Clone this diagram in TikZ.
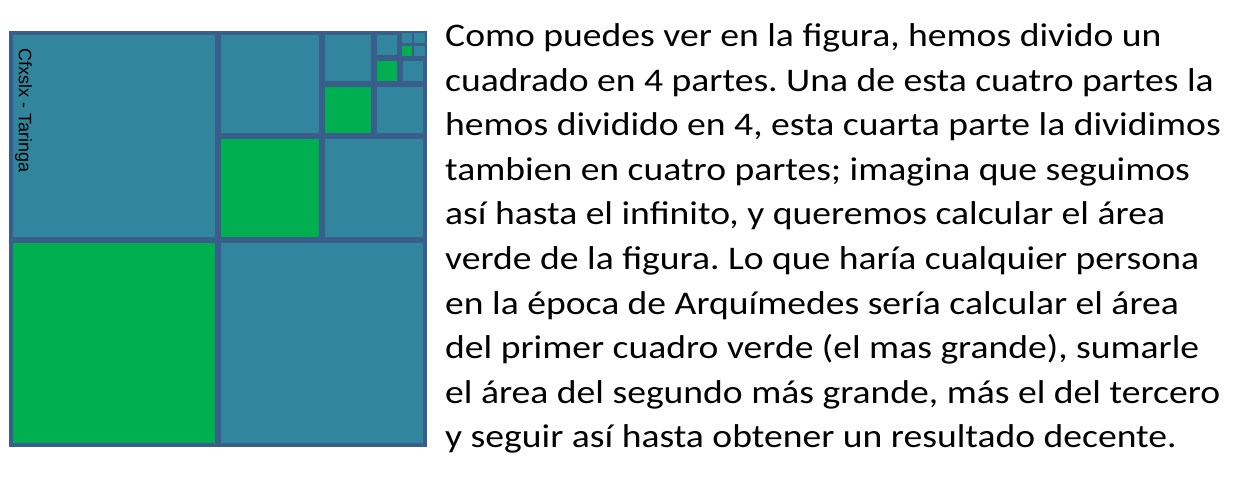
\documentclass[tikz,border=0pt]{standalone}
\usepackage{fontspec}
\setmainfont{Carlito}
\newfontfamily\wmfont{Liberation Sans}
\frenchspacing
\definecolor{sqfill}{HTML}{31859C}
\definecolor{sqgreen}{HTML}{00B050}
\definecolor{sqline}{HTML}{3A5E8C}
\begin{document}
\begin{tikzpicture}[x=1pt,y=-1pt,
  sq/.style={fill=sqfill,draw=sqline,line width=3.2pt},
  gsq/.style={fill=sqgreen,draw=sqline,line width=3.2pt},
  txt/.style={anchor=base west,inner sep=0pt,font=\fontsize{33}{40}\selectfont}]
\useasboundingbox[fill=white] (0,0) rectangle (1250,486);
% level 1
\draw[sq]  (11,33) rectangle (217,239);
\draw[gsq] (11,241) rectangle (217,445);
\draw[sq]  (219,241) rectangle (425,445);
% level 2
\draw[sq]  (219,33) rectangle (321,135);
\draw[gsq] (219,137) rectangle (321,239);
\draw[sq]  (323,137) rectangle (425,239);
% level 3
\draw[sq]  (323,33) rectangle (373,83);
\draw[gsq] (323,85) rectangle (373,135);
\draw[sq]  (375,85) rectangle (425,135);
% level 4
\draw[sq]  (375,33) rectangle (399,57);
\draw[gsq] (375,59) rectangle (399,83);
\draw[sq]  (401,59) rectangle (425,83);
% level 5
\draw[sq,line width=2pt]  (400.5,32.5) rectangle (412.5,44.5);
\draw[gsq,line width=2pt] (400.5,45) rectangle (412.5,57.5);
\draw[sq,line width=2pt]  (413,45) rectangle (425.5,57.5);
\draw[sq,line width=2pt]  (413,32.5) rectangle (425.5,44.5);
% watermark
\node[rotate=-90,anchor=base west,inner sep=0pt,font=\wmfont\fontsize{18}{21}\selectfont] (wm) at (19,48) {Cfxslx - Taringa};
% text
\foreach \t [count=\i] in {
  {Como puedes ver en la figura, hemos divido un},
  {cuadrado en 4 partes. Una de esta cuatro partes la},
  {hemos dividido en 4, esta cuarta parte la dividimos},
  {tambien en cuatro partes; imagina que seguimos},
  {así hasta el infinito, y queremos calcular el área},
  {verde de la figura. Lo que haría cualquier persona},
  {en la época de Arquímedes sería calcular el área},
  {del primer cuadro verde (el mas grande), sumarle},
  {el área del segundo más grande, más el del tercero},
  {y seguir así hasta obtener un resultado decente.}}
  \node[txt] (l\i) at (445,{47+44.5*(\i-1)}) {\scalebox{1.14}[1]{\t}};
\end{tikzpicture}
\end{document}
